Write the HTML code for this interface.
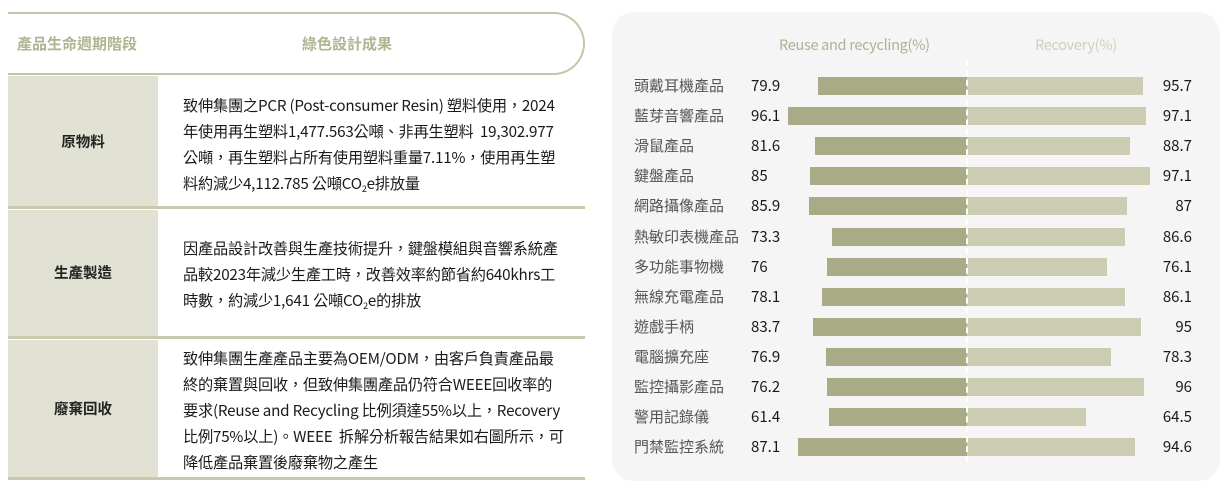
<!DOCTYPE html>
<html><head><meta charset="utf-8"><style>
*{margin:0;padding:0;box-sizing:border-box}
body{width:1231px;height:492px;background:#fff;position:relative;overflow:hidden;font-family:"Noto Sans CJK TC","Liberation Sans",sans-serif;}
.a{position:absolute;white-space:nowrap}
.hdr{left:8px;top:12px;width:577px;height:63px;border:2px solid #c4c5a8;border-left:none;border-radius:0 32px 32px 0;}
.ht{color:#b2b391;font-weight:bold;font-size:15px;top:33px;line-height:22px}
.lc{left:8px;width:150px;background:#e2e2d4}
.sep{left:8px;width:577px;height:3px;background:#c8c9ae}
.lab{left:8px;width:150px;text-align:center;font-weight:bold;font-size:14.5px;color:#222;line-height:20px}
.txt{left:183px;font-size:15.2px;line-height:26px;color:#1a1a1a;letter-spacing:-0.2px}
sub{font-size:9px;vertical-align:-3px;line-height:0}
.card{left:612px;top:12px;width:608px;height:469px;background:#f5f5f5;border-radius:22px}
.n{font-size:15px;color:#1a1a1a;line-height:20px}
.rl{font-size:15px;color:#555;line-height:20px}
.bl{background:#a9ab86;height:18px}
.br{background:#cbccb2;height:18px}
</style></head><body>
<div class="a hdr"></div>
<div class="a ht" style="left:17px">產品生命週期階段</div>
<div class="a ht" style="left:302px">綠色設計成果</div>
<div class="a lc" style="top:76px;height:131px"></div>
<div class="a lc" style="top:210px;height:127px"></div>
<div class="a lc" style="top:340px;height:138px"></div>
<div class="a sep" style="top:206px"></div>
<div class="a sep" style="top:336px"></div>
<div class="a sep" style="top:477px"></div>
<div class="a lab" style="top:132px">原物料</div>
<div class="a lab" style="top:263px">生產製造</div>
<div class="a lab" style="top:399px">廢棄回收</div>
<div class="a txt" style="top:92px">致伸集團之PCR (Post-consumer Resin) 塑料使用，2024<br>年使用再生塑料1,477.563公噸、非再生塑料&nbsp; 19,302.977<br>公噸，再生塑料占所有使用塑料重量7.11%，使用再生塑<br>料約減少4,112.785 公噸CO<sub>2</sub>e排放量</div>
<div class="a txt" style="top:235px">因產品設計改善與生產技術提升，鍵盤模組與音響系統產<br>品較2023年減少生產工時，改善效率約節省約640khrs工<br>時數，約減少1,641 公噸CO<sub>2</sub>e的排放</div>
<div class="a txt" style="top:345px">致伸集團生產產品主要為OEM/ODM，由客戶負責產品最<br>終的棄置與回收，但致伸集團產品仍符合WEEE回收率的<br>要求(Reuse and Recycling 比例須達55%以上，Recovery<br>比例75%以上)。WEEE&nbsp; 拆解分析報告結果如右圖所示，可<br>降低產品棄置後廢棄物之產生</div>
<div class="a card"></div>
<div class="a" style="left:779px;top:35px;font-size:14.5px;line-height:20px;color:#b0b190;letter-spacing:-0.3px">Reuse and recycling(%)</div>
<div class="a" style="left:1035px;top:35px;font-size:14.5px;line-height:20px;color:#cfd0b8;letter-spacing:-0.3px">Recovery(%)</div>
<div id="rows"></div>
<div class="a" style="left:966px;top:60px;height:402px;border-left:2px dashed #fff"></div>
<script>
var d=[["頭戴耳機產品","79.9","95.7",818,1143],["藍芽音響產品","96.1","97.1",788,1146],["滑鼠產品","81.6","88.7",815,1130],["鍵盤產品","85","97.1",810,1150],["網路攝像產品","85.9","87",809,1127],["熱敏印表機產品","73.3","86.6",832,1125],["多功能事物機","76","76.1",827,1107],["無線充電產品","78.1","86.1",822,1125],["遊戲手柄","83.7","95",813,1141],["電腦擴充座","76.9","78.3",826,1111],["監控攝影產品","76.2","96",827,1144],["警用記錄儀","61.4","64.5",829,1086],["門禁監控系統","87.1","94.6",798,1135]];
var h="";
d.forEach(function(r,i){var c=86+i*30.1;
h+='<div class="a rl" style="left:634px;top:'+(c-10)+'px">'+r[0]+'</div>';
h+='<div class="a n" style="left:751px;top:'+(c-10)+'px">'+r[1]+'</div>';
h+='<div class="a n" style="right:39px;top:'+(c-10)+'px">'+r[2]+'</div>';
h+='<div class="a bl" style="left:'+r[3]+'px;top:'+(c-9)+'px;width:'+(967-r[3])+'px"></div>';
h+='<div class="a br" style="left:967px;top:'+(c-9)+'px;width:'+(r[4]-967)+'px"></div>';});
document.getElementById("rows").innerHTML=h;
</script>
</body></html>
